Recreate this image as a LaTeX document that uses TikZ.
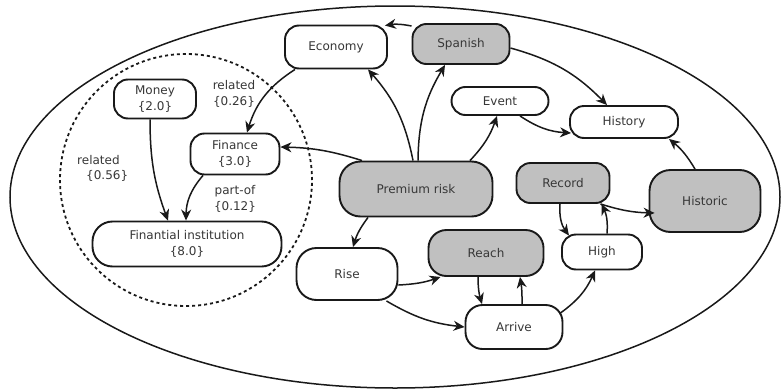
\documentclass[tikz,border=0pt]{standalone}
\usepackage{fontspec}
\setmainfont{DejaVu Sans}
\usetikzlibrary{arrows.meta}
\definecolor{nodegray}{RGB}{192,192,192}
\definecolor{txt}{RGB}{55,55,55}
\definecolor{ln}{RGB}{25,25,25}
\begin{document}
\begin{tikzpicture}[x=1pt,y=1pt,
  cbox/.style={draw=ln, line width=1.9pt, rounded corners=14pt, inner sep=0pt,
    text=txt, align=center, font=\fontsize{12}{16}\selectfont, fill=white},
  gbox/.style={cbox, fill=nodegray},
  lbl/.style={text=txt, inner sep=0pt, font=\fontsize{12}{15.5}\selectfont},
  edge/.style={draw=ln, line width=1.5pt, -{Stealth[length=11pt,width=10pt,inset=3.5pt]}}
]
\useasboundingbox (0,0) rectangle (781,-391);
\fill[white] (0,0) rectangle (781,-391);
% outer ellipse and dashed circle
\draw[ln, line width=1.5pt] (395,-197) ellipse [x radius=385pt, y radius=191pt];
\draw[ln, line width=1.8pt, dash pattern=on 3pt off 3pt] (186,-180) circle [radius=126pt];

% nodes
\node[cbox, minimum width=102pt, minimum height=43pt] (eco) at (336,-47) {Economy};
\node[gbox, minimum width=97pt, minimum height=40pt] (spa) at (461,-44) {Spanish};
\node[cbox, minimum width=82pt, minimum height=39pt] (money) at (155,-99) {Money\\\{2.0\}};
\node[cbox, minimum width=89pt, minimum height=41pt] (fin) at (235,-154) {Finance\\\{3.0\}};
\node[cbox, minimum width=97pt, minimum height=28pt] (evt) at (500,-101) {Event};
\node[cbox, minimum width=108pt, minimum height=32pt] (hist) at (624,-122) {History};
\node[gbox, rounded corners=21pt, minimum width=153pt, minimum height=55pt] (prem) at (416,-189) {Premium risk};
\node[gbox, minimum width=93pt, minimum height=40pt] (rec) at (563,-183) {Record};
\node[gbox, rounded corners=21pt, minimum width=111pt, minimum height=62pt] (hic) at (705,-201) {Historic};
\node[cbox, rounded corners=20pt, minimum width=189pt, minimum height=45pt] (fi) at (187,-244) {Finantial institution\\\{8.0\}};
\node[cbox, rounded corners=20pt, minimum width=101pt, minimum height=52pt] (rise) at (347,-274) {Rise};
\node[gbox, rounded corners=18pt, minimum width=115pt, minimum height=46pt] (reach) at (486,-253) {Reach};
\node[cbox, minimum width=80pt, minimum height=35pt] (high) at (602,-252) {High};
\node[cbox, rounded corners=17pt, minimum width=97pt, minimum height=44pt] (arr) at (514,-327) {Arrive};

% edge labels
\node[lbl, align=center] (l1) at (234,-94) {related\\\{0.26\}};
\node[lbl, align=left, anchor=west] (l2) at (77,-168.5) {related\\\hspace*{9pt}\{0.56\}};
\node[lbl, align=center] (l3) at (235,-199) {part-of\\\{0.12\}};

% edges
\draw[edge] (spa.160) to[bend right=10] ([xshift=-3pt,yshift=-1pt]eco.north east);
\draw[edge] ([xshift=-41pt]eco.south) to[bend right=20] ([xshift=12pt]fin.north);
\draw[edge] ([xshift=-5pt]money.south) to[bend right=10] ([xshift=-19pt]fi.north);
\draw[edge] ([xshift=-32pt]fin.south) to[bend right=20] ([xshift=-1pt]fi.north);
\draw[edge] ([xshift=-54pt]prem.north) to[bend right=8] ([yshift=7pt]fin.east);
\draw[edge] ([xshift=-3pt]prem.north) to[bend right=15] ([xshift=32pt]eco.south);
\draw[edge] ([xshift=2pt]prem.north) to[bend left=15] ([xshift=-16pt]spa.south);
\draw[edge] ([xshift=54pt]prem.north) to[bend right=12] ([xshift=-3pt]evt.south);
\draw[edge] ([yshift=-4pt]spa.east) to[bend left=15] ([xshift=-17pt]hist.north);
\draw[edge] ([xshift=20pt]evt.south) to[bend right=15] ([xshift=2pt,yshift=-11pt]hist.west);
\draw[edge] ([xshift=-10pt]hic.north) to[bend right=10] ([xshift=45pt]hist.south);
\draw[edge] ([xshift=-10pt]rec.south east) to[bend right=8] ([xshift=6pt,yshift=-12pt]hic.west);
\draw[edge] ([xshift=-3pt]rec.south) to[bend right=20] ([xshift=-33pt,yshift=-2pt]high.north);
\draw[edge] ([xshift=5pt]high.north) to[bend right=15] ([xshift=-9pt]rec.south east);
\draw[edge] ([xshift=-48pt]prem.south) to[bend right=10] ([xshift=6pt]rise.north);
\draw[edge] ([yshift=-11pt]rise.east) to[bend right=8] ([xshift=13pt]reach.south west);
\draw[edge] ([xshift=-12pt]rise.south east) to[bend right=12] (arr.west);
\draw[edge] ([xshift=-8pt]reach.south) to[bend right=8] ([xshift=-32pt]arr.north);
\draw[edge] ([xshift=8pt]arr.north) to[bend right=5] ([xshift=34pt]reach.south);
\draw[edge] ([xshift=-3pt,yshift=14pt]arr.east) to[bend right=15] ([xshift=-7pt]high.south);
\end{tikzpicture}
\end{document}
